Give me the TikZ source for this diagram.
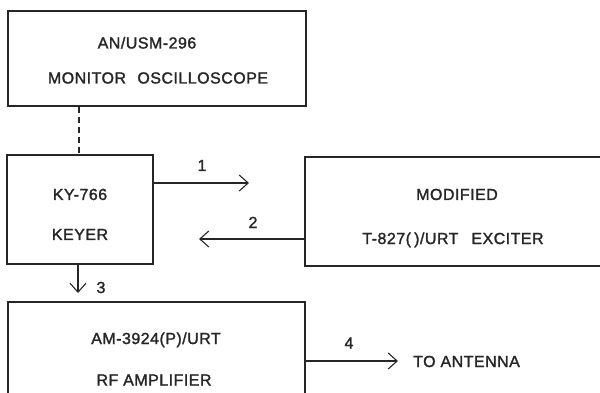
\documentclass[tikz,border=0pt]{standalone}
\usepackage{fontspec}
\setmainfont{Liberation Sans}[LetterSpace=3,FakeBold=1.6]
\usetikzlibrary{arrows.meta}
\tikzset{
  box/.style={draw=black!85, line width=1.2pt, inner sep=0pt},
  lbl/.style={anchor=base, inner sep=0pt, font=\fontsize{16}{19}\selectfont, text=black!85},
  conn/.style={draw=black!85, line width=1.1pt},
  arr/.style={conn, -{Straight Barb[length=9pt,width=16pt,line width=1.1pt]}},
}
\begin{document}
\begin{tikzpicture}[x=1pt,y=-1pt]
\useasboundingbox (0,0) rectangle (600,393);
\clip (0,0) rectangle (600,393);
% boxes
\node[box, minimum width=298pt, minimum height=95pt] (osc) at (157,58.5) {};
\node[box, minimum width=146pt, minimum height=109pt] (key) at (80,209.5) {};
\node[box, minimum width=300pt, minimum height=109pt] (exc) at (455,211.5) {};
\node[box, minimum width=297pt, minimum height=98pt] (amp) at (156.5,351) {};
% texts
\node[lbl] (osc1) at (147,48.5) {AN/USM-296};
\node[lbl] (osc2) at (158,83.5) {MONITOR\hspace{0.4em} OSCILLOSCOPE};
\node[lbl] (key1) at (80,200) {KY-766};
\node[lbl] (key2) at (80,240) {KEYER};
\node[lbl] (exc1) at (457,200) {MODIFIED};
\node[lbl] (exc2) at (453,244) {T-827(\hspace{0.2em})/URT\hspace{0.5em} EXCITER};
\node[lbl] (amp1) at (156,344) {AM-3924(P)/URT};
\node[lbl] (amp2) at (154,385.5) {RF AMPLIFIER};
\node[lbl, anchor=base west] (ant) at (413,367) {TO ANTENNA};
% connector labels
\node[lbl] (n1) at (202,171) {1};
\node[lbl] (n2) at (253,228) {2};
\node[lbl] (n3) at (101,293) {3};
\node[lbl] (n4) at (349,348.5) {4};
% connector end points
\coordinate (e1) at (249,183);
\coordinate (e2) at (199,239);
\coordinate (e3) at (78,293);
\coordinate (e4) at (398,361);
% connectors
\draw[conn, dashed, dash pattern=on 6pt off 4pt] (osc.south -| 79,0) -- (key.north -| 79,0);
\draw[arr] (key.east |- e1) -- (e1);
\draw[arr] (exc.west |- e2) -- (e2);
\draw[arr] (key.south -| e3) -- (e3);
\draw[arr] (amp.east |- e4) -- (e4);
\end{tikzpicture}
\end{document}
